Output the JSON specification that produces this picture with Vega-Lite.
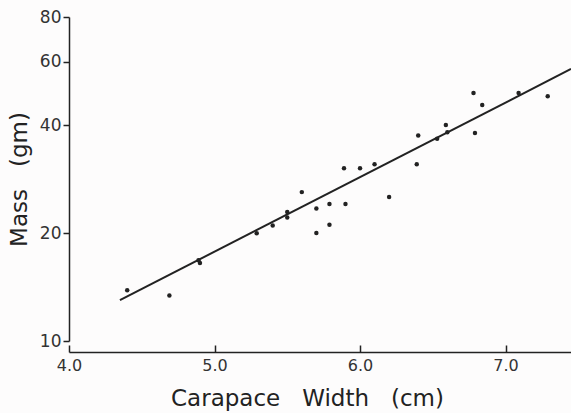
{
  "$schema": "https://vega.github.io/schema/vega-lite/v6.json",
  "autosize": "none",
  "width": 502,
  "height": 324,
  "padding": {"left": 69, "top": 17, "right": 0, "bottom": 72},
  "background": "#fdfcfc",
  "config": {
    "view": {"stroke": null},
    "axis": {"grid": false, "labelFont": "DejaVu Sans", "titleFont": "DejaVu Sans", "labelColor": "#333", "titleColor": "#222", "domainColor": "#222", "tickColor": "#222", "titleFontWeight": "normal"}
  },
  "datasets": {
    "pts": [
      {"w": 4.40, "m": 13.85},
      {"w": 4.69, "m": 13.4},
      {"w": 4.89, "m": 16.8},
      {"w": 4.90, "m": 16.5},
      {"w": 5.29, "m": 19.96},
      {"w": 5.40, "m": 21.0},
      {"w": 5.50, "m": 22.9},
      {"w": 5.50, "m": 22.1},
      {"w": 5.60, "m": 26.0},
      {"w": 5.70, "m": 23.4},
      {"w": 5.70, "m": 20.0},
      {"w": 5.79, "m": 24.1},
      {"w": 5.79, "m": 21.1},
      {"w": 5.89, "m": 30.3},
      {"w": 5.90, "m": 24.1},
      {"w": 6.00, "m": 30.3},
      {"w": 6.10, "m": 31.1},
      {"w": 6.20, "m": 25.2},
      {"w": 6.40, "m": 37.4},
      {"w": 6.39, "m": 31.1},
      {"w": 6.53, "m": 36.6},
      {"w": 6.59, "m": 40.0},
      {"w": 6.60, "m": 38.2},
      {"w": 6.78, "m": 49.1},
      {"w": 6.79, "m": 38.0},
      {"w": 6.84, "m": 45.5},
      {"w": 7.09, "m": 49.1},
      {"w": 7.29, "m": 48.1}
    ],
    "fit": [
      {"w": 4.35, "m": 13.0},
      {"w": 7.45, "m": 57.3}
    ]
  },
  "layer": [
    {
      "data": {"name": "fit"},
      "mark": {"type": "line", "color": "#222", "strokeWidth": 2, "clip": true},
      "encoding": {
        "x": {"field": "w", "type": "quantitative", "scale": {"domain": [4, 7.45], "nice": false, "zero": false},
          "axis": {"title": "Carapace\u00a0\u00a0\u00a0Width\u00a0\u00a0\u00a0(cm)", "values": [4, 5, 6, 7], "format": ".1f", "offset": 11, "tickSize": -7, "tickWidth": 1.5, "domainWidth": 1.5, "labelFontSize": 16, "labelPadding": 12, "titleFontSize": 23, "titlePadding": 14, "titleX": 238, "labelFlush": false}},
        "y": {"field": "m", "type": "quantitative", "scale": {"type": "log", "domain": [10, 80], "nice": false},
          "axis": {"title": "Mass\u00a0\u00a0\u00a0(gm)", "values": [10, 20, 40, 60, 80], "format": "d", "tickSize": 6, "tickWidth": 1.5, "domainWidth": 1.5, "labelFontSize": 17, "labelPadding": 2, "titleFontSize": 23, "titlePadding": 8}}
      }
    },
    {
      "data": {"name": "pts"},
      "mark": {"type": "circle", "color": "#222", "opacity": 1, "size": 20},
      "encoding": {
        "x": {"field": "w", "type": "quantitative"},
        "y": {"field": "m", "type": "quantitative"}
      }
    }
  ]
}
